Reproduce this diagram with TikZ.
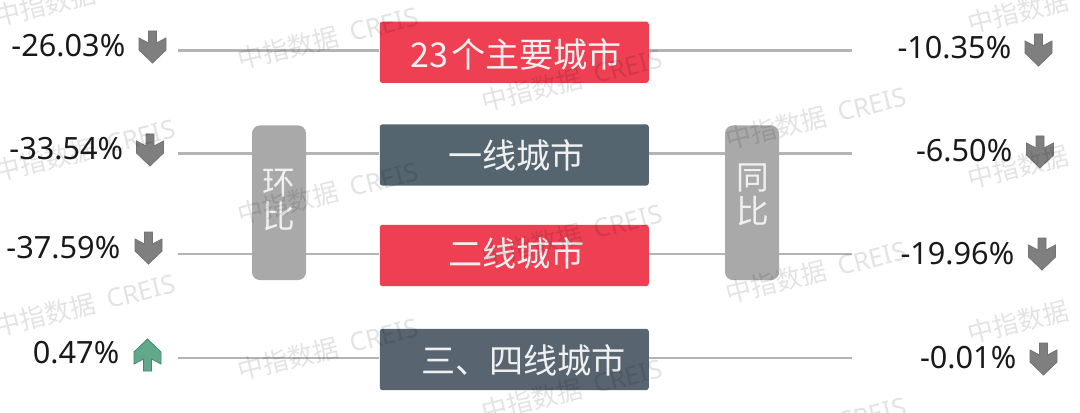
\documentclass[tikz,border=0pt]{standalone}
\usepackage{fontspec}
\setmainfont{Noto Sans}
\newfontfamily\cjk{Noto Sans CJK SC}
\definecolor{redbox}{HTML}{EE3F53}
\definecolor{slateA}{HTML}{54656F}
\definecolor{slateB}{HTML}{586470}
\definecolor{pillgrey}{HTML}{A9A9A9}
\definecolor{linegrey}{HTML}{B4B4B4}
\definecolor{arrgrey}{HTML}{7F7F7F}
\definecolor{arrgreyd}{HTML}{737373}
\definecolor{arrgreen}{HTML}{62A98C}
\definecolor{arrgreend}{HTML}{3F8A6C}
\definecolor{softwhite}{HTML}{F0F0F0}
\tikzset{
  citybox/.style={draw=none,rounded corners=2pt,minimum width=201.75pt,minimum height=46pt,inner sep=0pt},
  pillbox/.style={fill=pillgrey,rounded corners=6pt,minimum width=40.5pt,minimum height=116pt,inner sep=0pt},
  boxtext/.style={text=softwhite,inner sep=0pt,font=\cjk\fontsize{25.6pt}{30pt}\selectfont},
  pilltext/.style={text=softwhite,inner sep=0pt,align=center,font=\cjk\fontsize{24.5pt}{25.5pt}\selectfont},
  pct/.style={inner sep=0pt,anchor=base east,text=black!90,font=\fontsize{23pt}{27pt}\selectfont},
  rowline/.style={draw=linegrey,line width=1.8pt},
  wm/.style={inner sep=0pt,rotate=14,text=black,text opacity=0.11,font=\fontsize{19.3pt}{23pt}\selectfont},
  arrowshape/.pic={
    \path[pic actions,line width=0.6pt] (-4,0) -- (4,0) -- (4,12) -- (13.5,7) -- (13.5,19) -- (0,32) -- (-13.5,19) -- (-13.5,7) -- (-4,12) -- cycle;
  },
  greyarrow/.style={fill=arrgrey,draw=arrgreyd},
  greenarrow/.style={fill=arrgreen,draw=arrgreend}
}
\newcommand{\wmark}[3]{\node[wm] (#1) at (#2,#3) {{\cjk 中指数据}\hspace{9pt}CREIS};}
\begin{document}
\begin{tikzpicture}[x=0.75pt,y=-0.75pt]
\useasboundingbox (0,0) rectangle (1080,413);
\clip (0,0) rectangle (1080,413);
\fill[white] (0,0) rectangle (1080,413);
% free line ends
\coordinate (L1) at (178,50.5); \coordinate (R1) at (852,50.5);
\coordinate (L2) at (178,153.5); \coordinate (R2) at (852,153.5);
\coordinate (L3) at (178,254); \coordinate (R3) at (852,254);
\coordinate (L4) at (178,358); \coordinate (R4) at (852,358);
% boxes
\node[citybox,fill=redbox] (b1) at (514.25,52.25) {};
\node[citybox,fill=slateA] (b2) at (514.25,155) {};
\node[citybox,fill=redbox] (b3) at (514.25,255.5) {};
\node[citybox,fill=slateB] (b4) at (514.25,359.5) {};
% connectors
\draw[rowline] (L1) -- (L1 -| b1.west);
\draw[rowline] (R1) -- (R1 -| b1.east);
\draw[rowline] (L2) -- (L2 -| b2.west);
\draw[rowline] (R2) -- (R2 -| b2.east);
\draw[rowline] (L3) -- (L3 -| b3.west);
\draw[rowline] (R3) -- (R3 -| b3.east);
\draw[rowline] (L4) -- (L4 -| b4.west);
\draw[rowline] (R4) -- (R4 -| b4.east);
% pills
\node[pillbox] (p1) at (279,202.75) {};
\node[pillbox] (p2) at (752,202.75) {};
\node[pilltext] (pt1) at (279,200) {环\\比};
\node[pilltext] (pt2) at (753,195) {同\\比};
% box labels
\node[boxtext] (t1) at (516.5,54) {23\hspace{2pt}个主要城市};
\node[boxtext] (t2) at (516.5,155.5) {一线城市};
\node[boxtext] (t3) at (516.5,253) {二线城市};
\node[boxtext] (t4) at (523.5,360) {三、四线城市};
% percentages
\node[pct] (l1) at (125.5,57) {-26.03\%};
\node[pct] (l2) at (123.5,160) {-33.54\%};
\node[pct] (l3) at (120.5,258) {-37.59\%};
\node[pct] (l4) at (119.5,363) {0.47\%};
\node[pct] (r1) at (1011.5,59) {-10.35\%};
\node[pct] (r2) at (1012.5,162) {-6.50\%};
\node[pct] (r3) at (1014.5,264) {-19.96\%};
\node[pct] (r4) at (1016.5,368) {-0.01\%};
% arrows
\pic[greyarrow] (al1) at (152.5,31) {arrowshape};
\pic[greyarrow] (al2) at (150,134) {arrowshape};
\pic[greyarrow] (al3) at (148.5,232) {arrowshape};
\pic[greenarrow,yscale=-1] (al4) at (147.5,371) {arrowshape};
\pic[greyarrow] (ar1) at (1038.5,34) {arrowshape};
\pic[greyarrow] (ar2) at (1040,136) {arrowshape};
\pic[greyarrow] (ar3) at (1042,238) {arrowshape};
\pic[greyarrow] (ar4) at (1043.5,343) {arrowshape};
% watermarks
\wmark{w1}{85}{-5}
\wmark{w2}{85}{150}
\wmark{w3}{85}{305}
\wmark{w4}{328}{38}
\wmark{w5}{328}{193}
\wmark{w6}{328}{349}
\wmark{w7}{572}{80}
\wmark{w8}{572}{235}
\wmark{w9}{572}{390}
\wmark{w10}{816}{118}
\wmark{w11}{816}{272}
\wmark{w12}{816}{428}
\wmark{w13}{1058}{2}
\wmark{w14}{1058}{157}
\wmark{w15}{1058}{312}
\end{tikzpicture}
\end{document}
